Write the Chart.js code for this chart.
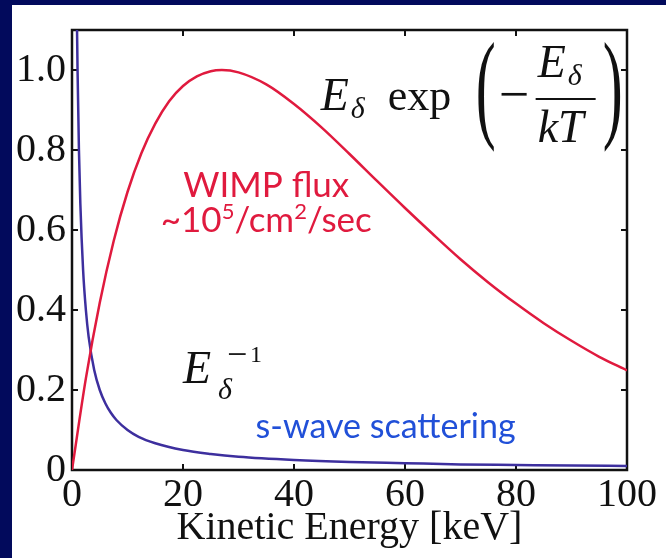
<!DOCTYPE html>
<html>
<head>
<meta charset="utf-8">
<script src="https://cdn.jsdelivr.net/npm/chart.js@4.4.1/dist/chart.umd.min.js"></script>
<style>
  html, body { margin: 0; padding: 0; background: #020a5c; }
  #wrap { width: 666px; height: 558px; position: relative; }
</style>
</head>
<body>
<div id="wrap"><canvas id="fluxChart" width="666" height="558"></canvas></div>
<script>
// energies (keV) and normalised values
const wimpEnergy = [0, 2.5, 5, 7.5, 10, 12.5, 15, 17.5, 20, 22.5, 25, 27, 30, 35, 40, 45, 50, 55, 60, 65, 70, 75, 80, 85, 90, 95, 100];
const wimpFlux   = [0, 0.229, 0.418, 0.572, 0.695, 0.792, 0.866, 0.922, 0.960, 0.984, 0.997, 1.0, 0.994, 0.964, 0.915, 0.856, 0.790, 0.722, 0.655, 0.590, 0.527, 0.469, 0.416, 0.367, 0.323, 0.283, 0.249];

const swaveEnergy = [0.9, 1, 1.25, 1.5, 2, 2.5, 3, 4, 5, 6, 7, 8, 10, 12, 15, 20, 25, 30, 40, 50, 60, 70, 80, 90, 100];
const swaveRate   = [1.11, 1.0, 0.8, 0.667, 0.5, 0.4, 0.333, 0.25, 0.2, 0.167, 0.143, 0.125, 0.1, 0.083, 0.067, 0.05, 0.04, 0.033, 0.025, 0.02, 0.017, 0.014, 0.0125, 0.011, 0.01];

const xTicks = [0, 20, 40, 60, 80, 100];
const yTicks = [0, 0.2, 0.4, 0.6, 0.8, 1.0];
const xTitle = 'Kinetic Energy [keV]';

const SERIF = '"Liberation Serif", "Times New Roman", serif';
const SANS = 'Lato, "Noto Sans", sans-serif';
const RED = '#e01a3e';
const BLUE = '#3d2f9e';

function toPoints(xs, ys) {
    return xs.map((x, i) => ({ x: x, y: ys[i] }));
}

// navy slide border behind the white figure
const backdrop = {
    id: 'backdrop',
    beforeDraw(chart) {
        const c = chart.ctx;
        c.save();
        c.fillStyle = '#020a5c';
        c.fillRect(0, 0, chart.width, chart.height);
        c.fillStyle = '#ffffff';
        c.fillRect(12, 5, chart.width - 12, chart.height - 5);
        c.restore();
    }
};

// box round the plot with inward tick marks on every side
const frame = {
    id: 'frame',
    beforeDatasetsDraw(chart) {
        const { ctx: c, chartArea: a, scales } = chart;
        const len = 6;
        c.save();
        c.strokeStyle = '#111';
        c.lineWidth = 2.5;
        c.strokeRect(a.left, a.top, a.right - a.left, a.bottom - a.top);
        c.lineWidth = 2;
        c.beginPath();
        xTicks.forEach(v => {
            const px = scales.x.getPixelForValue(v);
            c.moveTo(px, a.bottom); c.lineTo(px, a.bottom - len);
            c.moveTo(px, a.top); c.lineTo(px, a.top + len);
        });
        yTicks.forEach(v => {
            const py = scales.y.getPixelForValue(v);
            c.moveTo(a.left, py); c.lineTo(a.left + len, py);
            c.moveTo(a.right, py); c.lineTo(a.right - len, py);
        });
        c.stroke();
        c.restore();
    }
};

// draw a run of text pieces; pieces may be raised/lowered and smaller
function drawRun(c, pieces, x, y, align) {
    let total = 0;
    pieces.forEach(p => { c.font = p.font; total += c.measureText(p.t).width; });
    let cx = align === 'center' ? x - total / 2 : x;
    pieces.forEach(p => {
        c.font = p.font;
        c.fillText(p.t, cx, y + (p.dy || 0));
        cx += c.measureText(p.t).width;
    });
}

// tall thin bracket: small glyph stretched upwards
function tallGlyph(c, ch, x, y) {
    c.save();
    c.translate(x, y);
    c.scale(0.75, 1.5);
    c.font = '80px ' + SERIF;
    c.fillText(ch, 0, 0);
    c.restore();
}

const labels = {
    id: 'labels',
    afterDatasetsDraw(chart) {
        const c = chart.ctx;
        const sx = chart.scales.x, sy = chart.scales.y;
        c.save();
        c.textBaseline = 'alphabetic';
        c.textAlign = 'left';

        // E_delta exp(-E_delta / kT)
        let x = sx.getPixelForValue(44.8), y = sy.getPixelForValue(0.9);
        c.fillStyle = '#111';
        c.font = 'italic 46px ' + SERIF;
        c.fillText('E', x, y);
        c.font = 'italic 30px ' + SERIF;
        c.fillText('δ', x + 30, y + 8);
        c.font = '44px ' + SERIF;
        c.fillText('exp', x + 67, y);
        tallGlyph(c, '(', x + 155, y + 16);
        c.font = '54px ' + SERIF;
        c.fillText('−', x + 178, y + 2);
        c.font = 'italic 46px ' + SERIF;
        c.fillText('E', x + 217, y - 33);
        c.font = 'italic 30px ' + SERIF;
        c.fillText('δ', x + 247, y - 25);
        c.font = 'italic 46px ' + SERIF;
        c.fillText('kT', x + 217, y + 32);
        c.fillRect(x + 215, y - 12, 60, 2);
        tallGlyph(c, ')', x + 282, y + 16);

        // E_delta^-1
        x = sx.getPixelForValue(20.0); y = sy.getPixelForValue(0.2175);
        c.font = 'italic 46px ' + SERIF;
        c.fillText('E', x, y);
        c.font = 'italic 30px ' + SERIF;
        c.fillText('δ', x + 35, y + 16);
        c.font = '36px ' + SERIF;
        c.fillText('−', x + 44, y - 17);
        c.font = '24px ' + SERIF;
        c.fillText('1', x + 67, y - 21);

        // WIMP flux
        c.fillStyle = RED;
        x = sx.getPixelForValue(35.0);
        drawRun(c, [{ t: 'WIMP flux', font: '35px ' + SANS }], x, sy.getPixelForValue(0.6825), 'center');
        drawRun(c, [
            { t: '~10', font: '35px ' + SANS },
            { t: '5', font: '22px ' + SANS, dy: -13 },
            { t: '/cm', font: '35px ' + SANS },
            { t: '2', font: '22px ' + SANS, dy: -13 },
            { t: '/sec', font: '35px ' + SANS }
        ], x, sy.getPixelForValue(0.595), 'center');

        // s-wave
        c.fillStyle = '#2150d8';
        drawRun(c, [{ t: 's-wave scattering', font: '34px ' + SANS }],
            sx.getPixelForValue(56.5), sy.getPixelForValue(0.08), 'center');
        c.restore();
    }
};

new Chart(document.getElementById('fluxChart').getContext('2d'), {
    type: 'line',
    data: {
        datasets: [{
            label: 'WIMP flux',
            data: toPoints(wimpEnergy, wimpFlux),
            borderColor: RED,
            borderWidth: 2.5,
            pointRadius: 0,
            cubicInterpolationMode: 'monotone',
            fill: false
        }, {
            label: 's-wave scattering',
            data: toPoints(swaveEnergy, swaveRate),
            borderColor: BLUE,
            borderWidth: 2.5,
            pointRadius: 0,
            cubicInterpolationMode: 'monotone',
            fill: false
        }]
    },
    options: {
        responsive: false,
        animation: false,
        layout: { padding: { left: 12, right: 39, top: 28, bottom: 0 } },
        plugins: { legend: { display: false }, tooltip: { enabled: false } },
        scales: {
            x: {
                type: 'linear',
                min: 0,
                max: 100,
                afterFit: s => { s.height = 88; },
                afterBuildTicks: s => { s.ticks = xTicks.map(v => ({ value: v })); },
                grid: { display: false, drawTicks: false },
                border: { display: false },
                ticks: {
                    font: { family: SERIF, size: 40 },
                    color: '#111',
                    padding: 1,
                    maxRotation: 0,
                    autoSkip: false
                },
                title: {
                    display: true,
                    text: xTitle,
                    font: { family: SERIF, size: 40, lineHeight: 1.2 },
                    color: '#111',
                    padding: { top: 0, bottom: 6 }
                }
            },
            y: {
                type: 'linear',
                min: 0,
                max: 1.1,
                afterFit: s => { s.width = 60; },
                afterBuildTicks: s => { s.ticks = yTicks.map(v => ({ value: v })); },
                grid: { display: false, drawTicks: false },
                border: { display: false },
                ticks: {
                    font: { family: SERIF, size: 40 },
                    color: '#111',
                    padding: 6,
                    callback: v => (v === 0 ? '0' : v.toFixed(1))
                }
            }
        }
    },
    plugins: [backdrop, frame, labels]
});
</script>
</body>
</html>
